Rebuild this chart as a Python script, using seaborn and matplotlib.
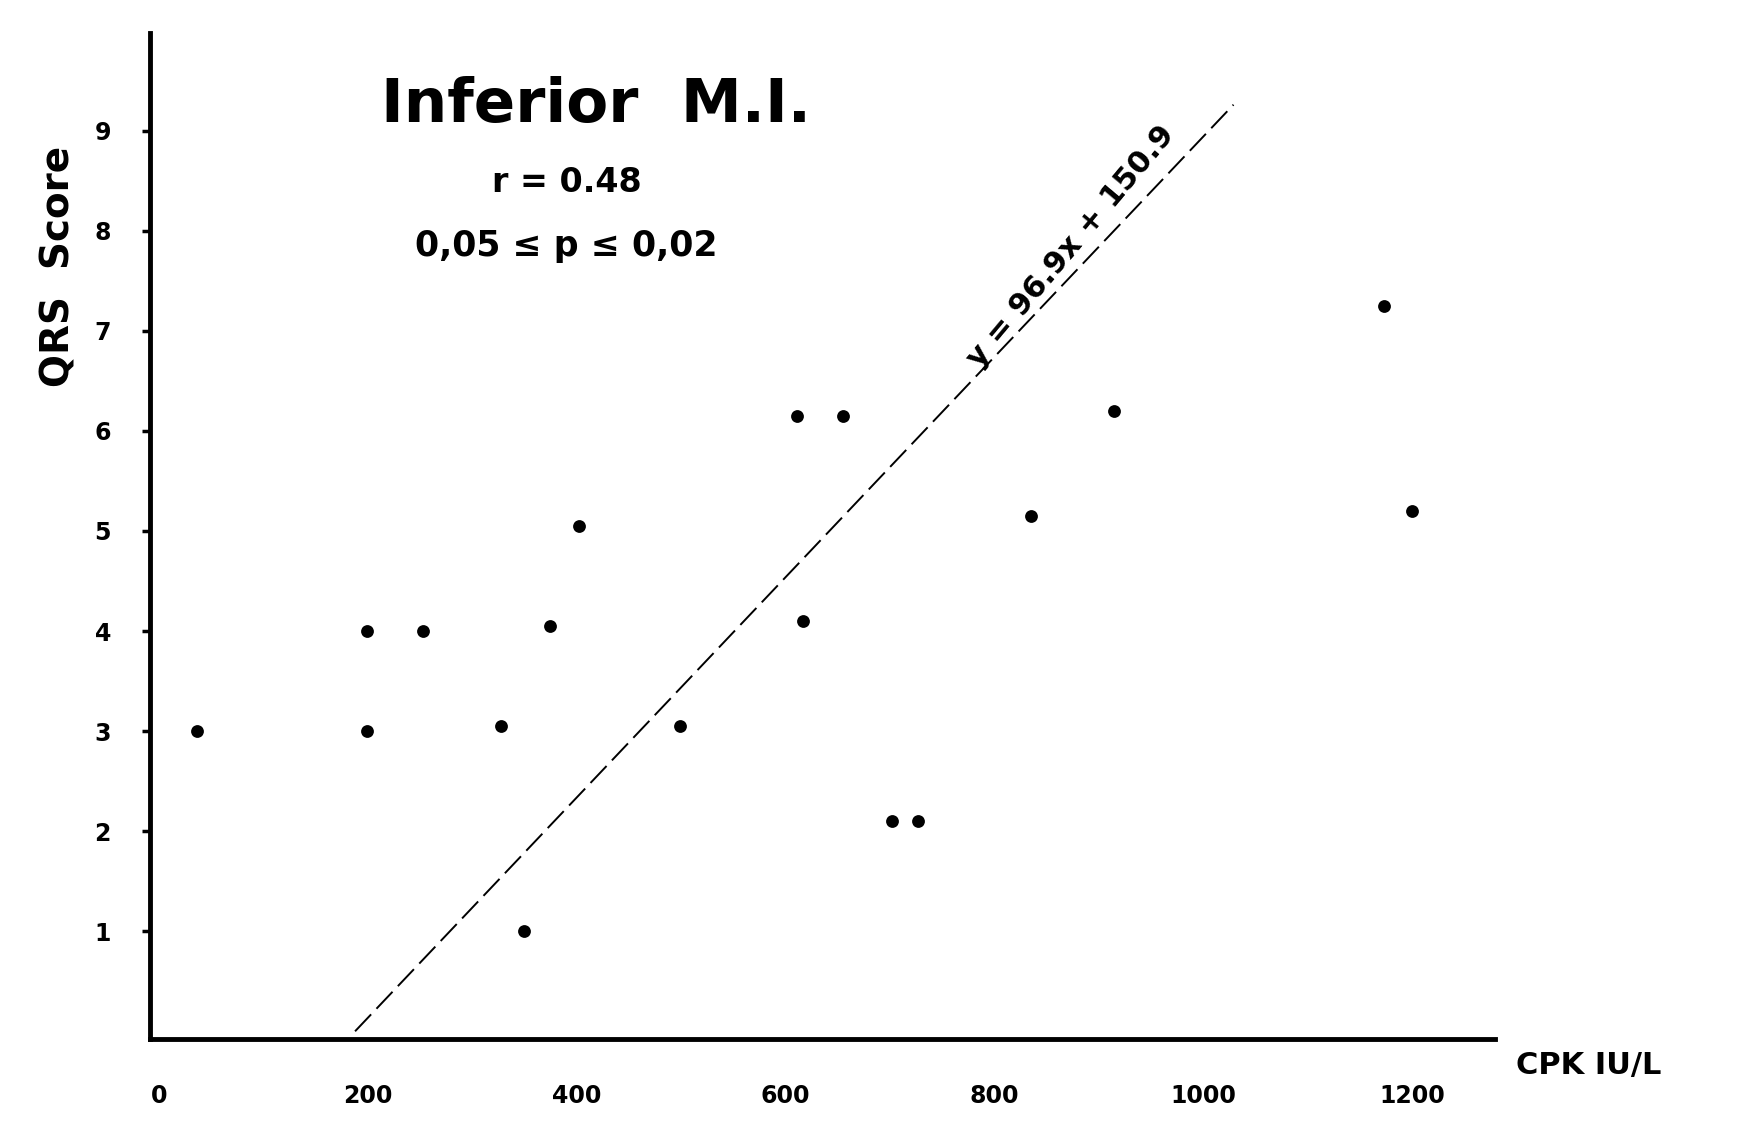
import numpy as np
import matplotlib
matplotlib.use("Agg")
import matplotlib.pyplot as plt
import seaborn as sns

# values
cpk = [37, 199, 199, 253, 328, 350, 375, 402, 499, 611, 655, 617, 702, 727, 835, 915, 1173, 1200]
qrs = [3.0, 4.0, 3.0, 4.0, 3.05, 1.0, 4.05, 5.05, 3.05, 6.15, 6.15, 4.1, 2.1, 2.1, 5.15, 6.2, 7.25, 5.2]

x_ticks = [0, 200, 400, 600, 800, 1000, 1200]
y_ticks = [1, 2, 3, 4, 5, 6, 7, 8, 9]

# ends of the drawn regression line
line_cpk = [188, 1029]
line_qrs = [0.0, 9.26]

sns.set_style("ticks")
plt.rcParams['font.family'] = ['DejaVu Sans']
plt.rcParams['text.color'] = 'black'
plt.rcParams['xtick.color'] = 'black'
plt.rcParams['ytick.color'] = 'black'
plt.rcParams['axes.labelcolor'] = 'black'

fig = plt.figure(figsize=(17.42, 11.26), dpi=100)
ax = fig.add_axes([0.086, 0.077, 0.772, 0.894])

sns.scatterplot(x=cpk, y=qrs, ax=ax, color='black', s=85, edgecolor='black', linewidth=0)
ax.plot(line_cpk, line_qrs, color='black', lw=1.4, ls=(0, (12, 4)))

ax.set_xlim(-8.5, 1279)
ax.set_ylim(-0.08, 9.98)
ax.set_xticks(x_ticks)
ax.set_yticks(y_ticks)
ax.set_xticklabels([str(t) for t in x_ticks], fontsize=17, fontweight='bold')
ax.set_yticklabels([str(t) for t in y_ticks], fontsize=17, fontweight='bold')
ax.tick_params(axis='x', length=0, pad=32)
ax.tick_params(axis='y', length=6, width=2.5, pad=22, direction='out')

sns.despine(ax=ax)
for sp in ['left', 'bottom']:
    ax.spines[sp].set_linewidth(3.5)
    ax.spines[sp].set_color('black')

ax.set_ylabel('QRS  Score', fontsize=28, fontweight='bold')
ax.yaxis.set_label_coords(-0.054, 0.768)
ax.text(1.07, -0.012, 'CPK IU/L', transform=ax.transAxes, fontsize=22,
        fontweight='bold', ha='center', va='top')

ax.text(0.332, 0.928, 'Inferior  M.I.', transform=ax.transAxes, fontsize=44,
        fontweight='bold', ha='center', va='center')
ax.text(0.31, 0.851, 'r = 0.48', transform=ax.transAxes, fontsize=24,
        fontweight='bold', ha='center', va='center')
ax.text(0.31, 0.788, '0,05 ≤ p ≤ 0,02', transform=ax.transAxes, fontsize=25,
        fontweight='bold', ha='center', va='center')
ax.text(874, 7.84, 'y = 96.9x + 150.9', fontsize=22, fontweight='bold',
        rotation=50, ha='center', va='center')

fig.savefig('out.png', dpi=100)
